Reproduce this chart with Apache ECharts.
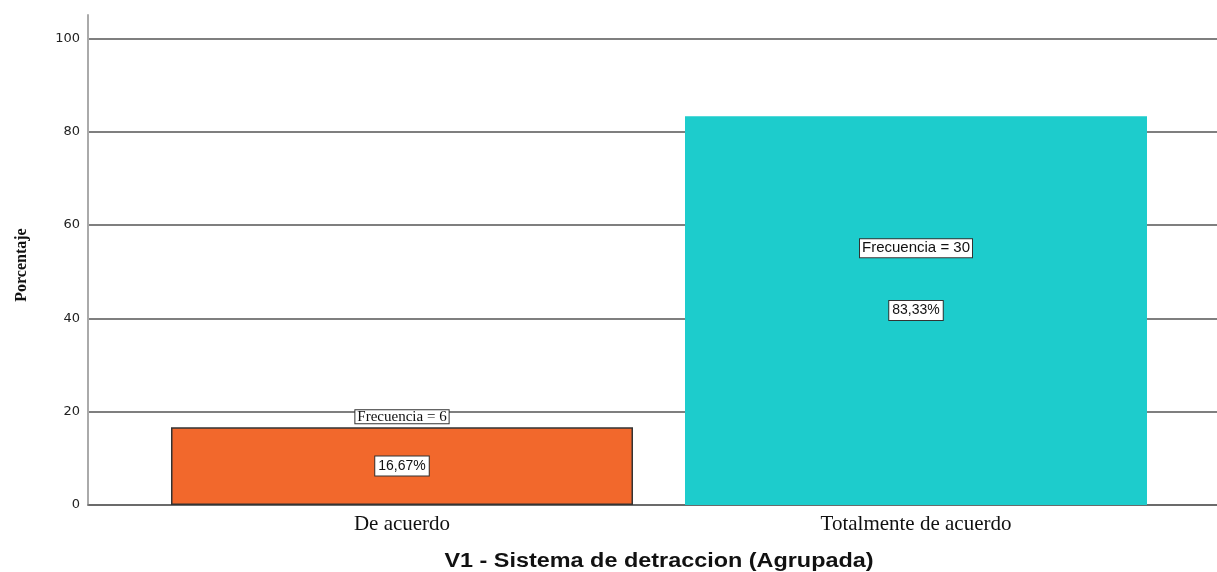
<!DOCTYPE html>
<html>
<head>
<meta charset="utf-8">
<script src="https://cdn.jsdelivr.net/npm/echarts@6/dist/echarts.min.js"></script>
<style>
  html, body { margin: 0; padding: 0; background: #fff; }
  #chart { width: 1217px; height: 572px; }
</style>
</head>
<body>
<div id="chart"></div>
<script>
// Datos de la gráfica
const categorias = ["De acuerdo", "Totalmente de acuerdo"];
const porcentajes = [16.67, 83.33];
const frecuencias = [6, 30];
const colores = ["#F2682C", "#1DCCCC"];
const yTicks = [0, 20, 40, 60, 80, 100];

const chart = echarts.init(document.getElementById("chart"));

const boxLabel = {
  backgroundColor: "#fff",
  borderColor: "#333",
  borderWidth: 1,
  padding: [2, 2, 1, 2],
  color: "#111",
  fontSize: 14,
  fontFamily: "Liberation Sans, Arial, sans-serif",
};

const option = {
  animation: false,
  grid: [
    // grid de ejes y líneas de referencia
    { left: 88, right: 0, top: 15, bottom: 67 },
    // grid de las barras
    { left: 145, right: 44, top: 15, bottom: 67 },
  ],
  xAxis: [
    {
      gridIndex: 0,
      type: "value",
      min: 0,
      max: 1,
      axisLine: { show: true, lineStyle: { color: "#666", width: 1.5 } },
      axisTick: { show: false },
      axisLabel: { show: false },
      splitLine: { show: false },
    },
    {
      gridIndex: 1,
      type: "category",
      data: categorias,
      axisLine: { show: false },
      axisTick: { show: false },
      axisLabel: {
        margin: 9,
        color: "#111",
        fontSize: 21,
        fontFamily: "Liberation Serif, Times New Roman, serif",
      },
    },
  ],
  yAxis: [
    {
      gridIndex: 0,
      type: "value",
      min: 0,
      max: 105,
      interval: 20,
      axisLine: { show: true, lineStyle: { color: "#aaa", width: 2 } },
      axisTick: { show: false },
      axisLabel: {
        showMaxLabel: false,
        margin: 8,
        color: "#222",
        fontSize: 13,
        padding: [4, 0, 0, 0],
        fontFamily: "DejaVu Sans, sans-serif",
        formatter: (v) => (yTicks.includes(v) ? String(v) : ""),
      },
      splitLine: { show: true, showMaxLine: false, lineStyle: { color: "#555", width: 1.5 } },
    },
    {
      gridIndex: 1,
      type: "value",
      min: 0,
      max: 105,
      show: false,
      splitLine: { show: false },
    },
  ],
  graphic: [
    {
      type: "text",
      x: 22,
      y: 265,
      rotation: Math.PI / 2,
      style: {
        text: "Porcentaje",
        fill: "#111",
        font: "bold 16px 'Liberation Serif', serif",
        align: "center",
        verticalAlign: "middle",
      },
    },
    {
      type: "text",
      x: 659,
      y: 561,
      scaleX: 1.17,
      style: {
        text: "V1 - Sistema de detraccion (Agrupada)",
        fill: "#111",
        font: "bold 20px 'Liberation Sans', Arial, sans-serif",
        align: "center",
        verticalAlign: "middle",
      },
    },
  ],
  series: [
    {
      type: "bar",
      xAxisIndex: 1,
      yAxisIndex: 1,
      barWidth: 462,
      data: porcentajes.map((v, i) => ({
        value: v,
        itemStyle: {
          color: colores[i],
          borderColor: i === 0 ? "#333" : colores[i],
          borderWidth: i === 0 ? 1.5 : 0,
        },
      })),
      label: Object.assign({}, boxLabel, {
        show: true,
        position: "inside",
        padding: [3, 3, 2, 3],
        formatter: (p) => p.value.toFixed(2).replace(".", ",") + "%",
      }),
    },
    {
      // capa transparente para las etiquetas de frecuencia
      type: "bar",
      xAxisIndex: 1,
      yAxisIndex: 1,
      barWidth: 462,
      barGap: "-100%",
      silent: true,
      itemStyle: { color: "transparent" },
      data: porcentajes.map((v, i) => ({
        value: v,
        label:
          i === 0
            ? Object.assign({}, boxLabel, {
                show: true,
                position: "top",
                distance: 4,
                fontSize: 15,
                lineHeight: 13,
                padding: [0, 2, 0, 2],
                fontFamily: "Liberation Serif, Times New Roman, serif",
              })
            : Object.assign({}, boxLabel, {
                show: true,
                position: ["50%", "34%"],
                align: "center",
                verticalAlign: "middle",
                fontSize: 15,
              }),
      })),
      label: {
        show: true,
        formatter: (p) => "Frecuencia = " + frecuencias[p.dataIndex],
      },
    },
  ],
};

chart.setOption(option);
</script>
</body>
</html>
